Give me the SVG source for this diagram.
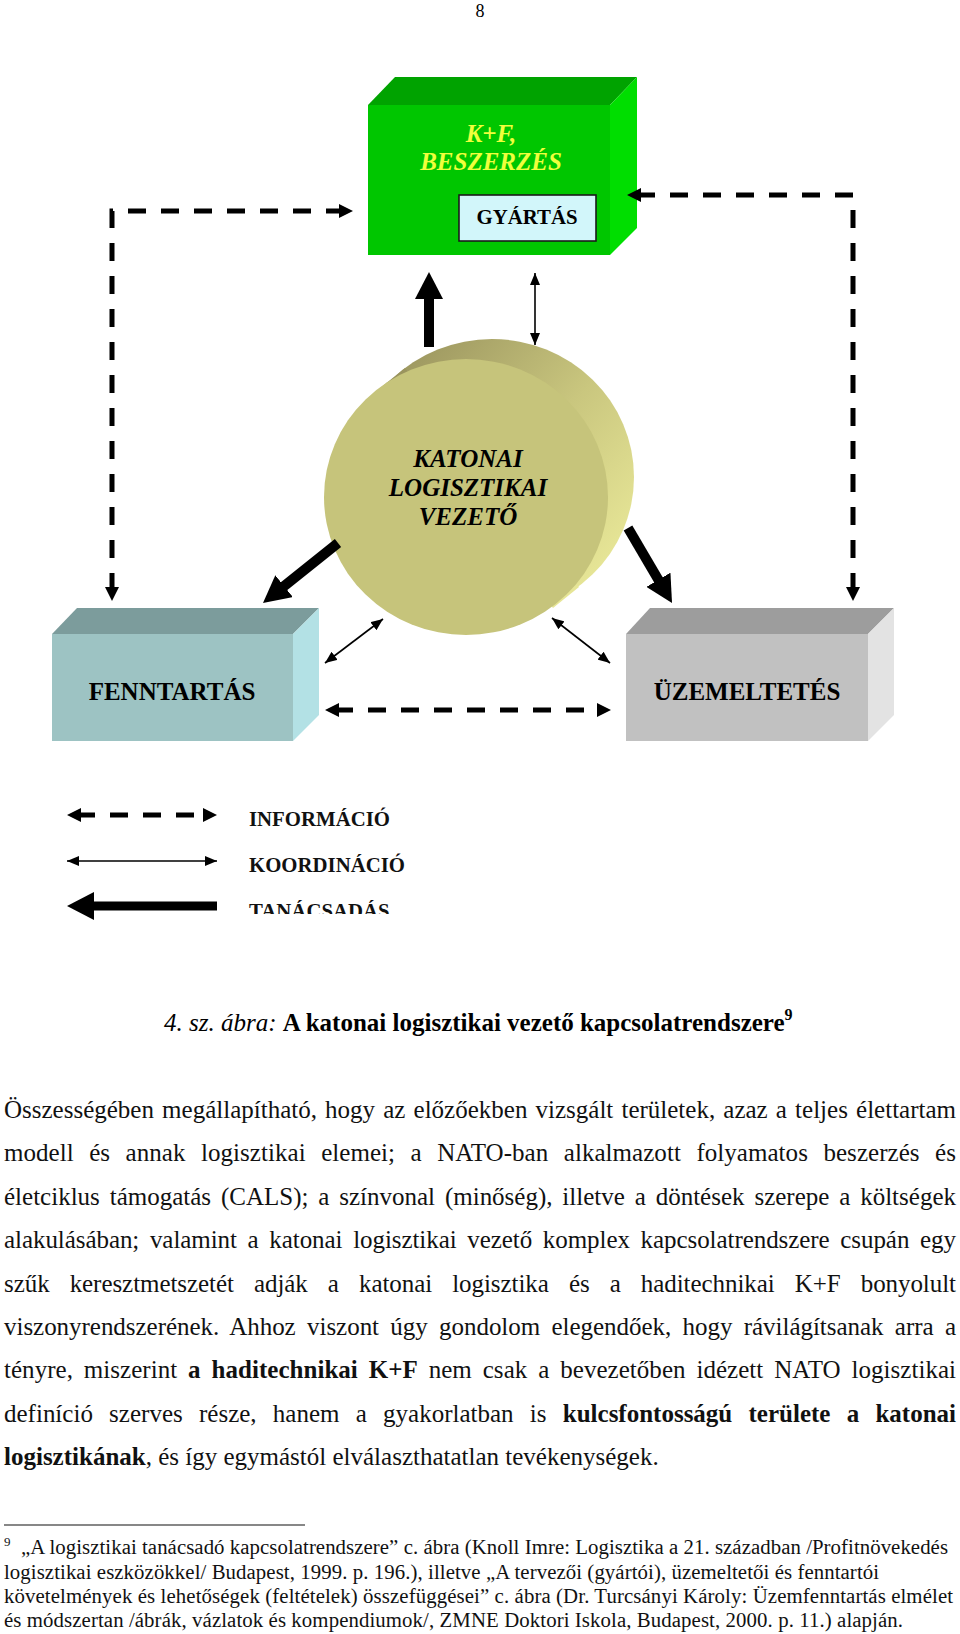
<svg xmlns="http://www.w3.org/2000/svg" width="960" height="1634" viewBox="0 0 960 1634">
<style>
.serif{font-family:"Liberation Serif","Times New Roman",serif;}
.lbl{font-family:"Liberation Serif","Times New Roman",serif;font-weight:bold;font-size:25px;fill:#000;text-anchor:middle;}
.ital{font-style:italic;}
.b{font-weight:bold;}
.dash{fill:none;stroke:#000;stroke-width:5;stroke-dasharray:18 15;}
.thin{fill:none;stroke:#000;stroke-width:1.6;}
.thick{fill:none;stroke:#000;stroke-width:10;}
.para{font-family:"Liberation Serif","Times New Roman",serif;font-size:25px;fill:#111;}
.foot{font-family:"Liberation Serif","Times New Roman",serif;font-size:20.8px;fill:#111;}
.leg{font-family:"Liberation Serif","Times New Roman",serif;font-weight:bold;font-size:20.8px;fill:#111;}
</style>
<defs>
<marker id="mDash" markerUnits="userSpaceOnUse" markerWidth="15" markerHeight="14" refX="4" refY="7" orient="auto-start-reverse"><path d="M0,0 L14,7 L0,14 z" fill="#000"/></marker>
<marker id="mThin" markerUnits="userSpaceOnUse" markerWidth="13" markerHeight="10" refX="12" refY="5" orient="auto-start-reverse"><path d="M0,0 L12,5 L0,10 z" fill="#000"/></marker>
<marker id="mThick" markerUnits="userSpaceOnUse" markerWidth="28" markerHeight="28" refX="7" refY="14" orient="auto-start-reverse"><path d="M0,0 L27,14 L0,28 z" fill="#000"/></marker>
<linearGradient id="gSide" x1="0.2" y1="0" x2="1" y2="0.7">
<stop offset="0" stop-color="#9A945E"/><stop offset="0.55" stop-color="#C9C67E"/><stop offset="1" stop-color="#E6E596"/>
</linearGradient>
<clipPath id="legClip"><rect x="0" y="0" width="960" height="914"/></clipPath>
</defs>

<text class="serif" x="480" y="17" font-size="18" text-anchor="middle">8</text>

<g id="node-kf">
<polygon points="368,105 395,77 637,77 610,105" fill="#00A300"/>
<polygon points="610,105 637,77 637,228 610,255" fill="#00DE00"/>
<rect x="368" y="105" width="242" height="150" fill="#00C600"/>
<text class="lbl ital" x="491" y="142" style="fill:#F0FF3C">K+F,</text>
<text class="lbl ital" x="491" y="170" style="fill:#F0FF3C">BESZERZÉS</text>
</g>
<g id="node-gyartas">
<rect x="459" y="195" width="137" height="46" fill="#D2F6FA" stroke="#1a1a1a" stroke-width="1.6"/>
<text class="lbl" x="527" y="224" style="font-size:20.8px">GYÁRTÁS</text>
</g>

<g id="node-vezeto">
<ellipse cx="492" cy="477" rx="142" ry="138" fill="url(#gSide)"/>
<polygon points="379,389 405,368 579,587 553,608" fill="url(#gSide)"/>
<ellipse cx="466" cy="497" rx="142" ry="138" fill="#C6C47B"/>
<text class="lbl ital" x="468" y="467">KATONAI</text>
<text class="lbl ital" x="468" y="496">LOGISZTIKAI</text>
<text class="lbl ital" x="468" y="525">VEZETŐ</text>
</g>

<g id="node-fenntartas">
<polygon points="52,634 77,608 319,608 293,634" fill="#7C9C9C"/>
<polygon points="293,634 319,608 319,715 293,741" fill="#B3E1E5"/>
<rect x="52" y="634" width="241" height="107" fill="#9DC3C3"/>
<text class="lbl" x="172" y="700">FENNTARTÁS</text>
</g>

<g id="node-uzemeltetes">
<polygon points="626,634 650,608 894,608 868,634" fill="#9D9D9D"/>
<polygon points="868,634 894,608 894,715 868,741" fill="#E3E3E3"/>
<rect x="626" y="634" width="242" height="107" fill="#C1C1C1"/>
<text class="lbl" x="747" y="700">ÜZEMELTETÉS</text>
</g>

<g id="connectors">
<path class="dash" d="M112,591 V211 H343" marker-start="url(#mDash)" marker-end="url(#mDash)"/>
<path class="dash" d="M853,591 V195 H637" marker-start="url(#mDash)" marker-end="url(#mDash)"/>
<path class="dash" d="M335,710 H601" marker-start="url(#mDash)" marker-end="url(#mDash)"/>
<path class="thin" d="M535,273 V345" marker-start="url(#mThin)" marker-end="url(#mThin)"/>
<path class="thin" d="M325,663 L383,619" marker-start="url(#mThin)" marker-end="url(#mThin)"/>
<path class="thin" d="M552,618 L610,663" marker-start="url(#mThin)" marker-end="url(#mThin)"/>
<path class="thick" d="M429,347 V292" marker-end="url(#mThick)"/>
<path class="thick" d="M338,543 L278.6,590.5" marker-end="url(#mThick)"/>
<path class="thick" d="M628,528 L661.9,585.8" marker-end="url(#mThick)"/>
</g>

<g id="legend">
<path class="dash" d="M77,815 H207" marker-start="url(#mDash)" marker-end="url(#mDash)"/>
<path class="thin" d="M67,861 H217" marker-start="url(#mThin)" marker-end="url(#mThin)"/>
<path class="thick" style="stroke-width:9" d="M217,906 H87" marker-end="url(#mThick)"/>
<text class="leg" x="249" y="826">INFORMÁCIÓ</text>
<text class="leg" x="249" y="872">KOORDINÁCIÓ</text>
<text class="leg" x="249" y="918" clip-path="url(#legClip)">TANÁCSADÁS</text>
</g>

<text class="serif" x="164" y="1031" font-size="25"><tspan class="ital">4. sz. ábra: </tspan><tspan class="b">A katonai logisztikai vezető kapcsolatrendszere</tspan><tspan class="b" font-size="16" dy="-11">9</tspan></text>

<g id="paragraph">
<text class="para" x="4" y="1118" word-spacing="1.9" textLength="952" lengthAdjust="spacing">Összességében megállapítható, hogy az előzőekben vizsgált területek, azaz a teljes élettartam</text>
<text class="para" x="4" y="1161" word-spacing="9.2" textLength="952" lengthAdjust="spacing">modell és annak logisztikai elemei; a NATO-ban alkalmazott folyamatos beszerzés és</text>
<text class="para" x="4" y="1205" word-spacing="3.6" textLength="952" lengthAdjust="spacing">életciklus támogatás (CALS); a színvonal (minőség), illetve a döntések szerepe a költségek</text>
<text class="para" x="4" y="1248" word-spacing="4.5" textLength="952" lengthAdjust="spacing">alakulásában; valamint a katonai logisztikai vezető komplex kapcsolatrendszere csupán egy</text>
<text class="para" x="4" y="1292" word-spacing="13.9" textLength="952" lengthAdjust="spacing">szűk keresztmetszetét adják a katonai logisztika és a haditechnikai K+F bonyolult</text>
<text class="para" x="4" y="1335" word-spacing="5.1" textLength="952" lengthAdjust="spacing">viszonyrendszerének. Ahhoz viszont úgy gondolom elegendőek, hogy rávilágítsanak arra a</text>
<text class="para" x="4" y="1378" word-spacing="4.6" textLength="952" lengthAdjust="spacing">tényre, miszerint <tspan class="b">a haditechnikai K+F</tspan> nem csak a bevezetőben idézett NATO logisztikai</text>
<text class="para" x="4" y="1422" word-spacing="10" textLength="952" lengthAdjust="spacing">definíció szerves része, hanem a gyakorlatban is <tspan class="b">kulcsfontosságú területe a katonai</tspan></text>
<text class="para" x="4" y="1465"><tspan class="b">logisztikának</tspan>, és így egymástól elválaszthatatlan tevékenységek.</text>
</g>

<g id="footnote">
<line x1="4" y1="1525" x2="305" y2="1525" stroke="#111" stroke-width="1.2"/>
<text class="foot" x="4" y="1546" style="font-size:13px">9</text>
<text class="foot" x="21" y="1554" textLength="927" lengthAdjust="spacing">„A logisztikai tanácsadó kapcsolatrendszere” c. ábra (Knoll Imre: Logisztika a 21. században /Profitnövekedés</text>
<text class="foot" x="4" y="1579" textLength="875" lengthAdjust="spacing">logisztikai eszközökkel/ Budapest, 1999. p. 196.), illetve „A tervezői (gyártói), üzemeltetői és fenntartói</text>
<text class="foot" x="4" y="1603" textLength="949" lengthAdjust="spacing">követelmények és lehetőségek (feltételek) összefüggései” c. ábra (Dr. Turcsányi Károly: Üzemfenntartás elmélet</text>
<text class="foot" x="4" y="1627" textLength="899" lengthAdjust="spacing">és módszertan /ábrák, vázlatok és kompendiumok/, ZMNE Doktori Iskola, Budapest, 2000. p. 11.) alapján.</text>
</g>
</svg>
